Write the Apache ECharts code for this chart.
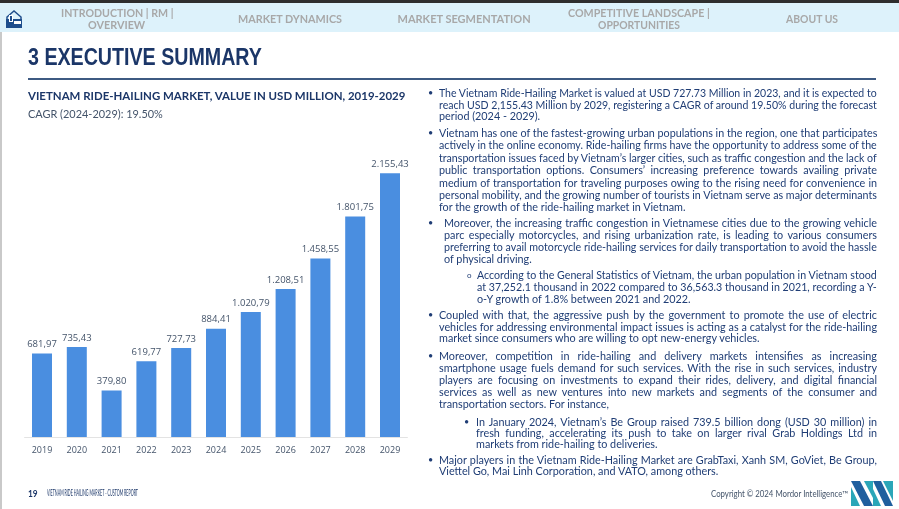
<!DOCTYPE html>
<html>
<head>
<meta charset="utf-8">
<script src="https://cdn.jsdelivr.net/npm/echarts@6/dist/echarts.min.js"></script>
<style>
  html,body{margin:0;padding:0;background:#fff;}
  #page{position:relative;width:899px;height:509px;overflow:hidden;background:#fff;font-family:Lato,"Open Sans",sans-serif;}
  #chart{position:absolute;left:0;top:0;width:899px;height:509px;}
  .t{position:absolute;white-space:nowrap;transform-origin:0 50%;}
  .ln{position:absolute;white-space:nowrap;height:12px;line-height:12px;font-size:10.8px;color:#1f3d75;transform-origin:0 50%;}
  .bl{position:absolute;height:12px;line-height:12px;font-size:9px;color:#1f3d75;}
</style>
</head>
<body>
<div id="page">
  <div style="position:absolute;left:0;top:0;width:899px;height:3px;background:#2e2e2e"></div>
  <div style="position:absolute;left:0;top:3px;width:899px;height:29px;background:#ddf2fb"></div>
  <div style="position:absolute;left:0;top:32px;width:2px;height:477px;background:#c9c9c9"></div>
  <svg style="position:absolute;left:4px;top:8px" width="20" height="22" viewBox="0 0 20 22">
    <path d="M3 9 L10 3 L17 9 L17 12 L3 12 Z" fill="none" stroke="#1f4e8c" stroke-width="1.5"/>
    <rect x="2" y="11" width="16" height="9" fill="#1f4e8c"/>
    <rect x="5" y="7" width="4" height="7" fill="#ffffff"/>
    <rect x="6" y="8" width="2" height="5" fill="#1f4e8c"/>
    <rect x="10" y="13" width="7" height="3" fill="#ffffff"/>
  </svg>
  <div id="chart"></div>
  <div style="position:absolute;left:28px;top:78px;width:848px;height:2px;background:#3e5a82"></div>
  <svg style="position:absolute;left:851px;top:481px" width="44" height="26" viewBox="0 0 44 26">
    <polygon points="0,6 0,25 9,25" fill="#2aa6b8"/>
    <polygon points="0,0 9,0 22,25 13,25" fill="#1f5f9e"/>
    <polygon points="13,0 22,0 22,17" fill="#2aa6b8"/>
    <polygon points="22,0 30,0 42,25 34,25" fill="#1f5f9e"/>
    <polygon points="32,0 42,0 42,20" fill="#2aa6b8"/>
    <polygon points="22,8 22,25 30,25" fill="#2aa6b8"/>
  </svg>
</div>
<script>
// ---------------- data ----------------
var years = ['2019','2020','2021','2022','2023','2024','2025','2026','2027','2028','2029'];
var values = [681.97, 735.43, 379.80, 619.77, 727.73, 884.41, 1020.79, 1208.51, 1458.55, 1801.75, 2155.43];
var chartTitle = 'VIETNAM RIDE-HAILING MARKET, VALUE IN USD MILLION, 2019-2029';
var cagrText = 'CAGR (2024-2029): 19.50%';

function fmt(v){
  var s = v.toFixed(2).split('.');
  var i = s[0].replace(/\B(?=(\d{3})+(?!\d))/g, '.');
  return i + ',' + s[1];
}

var chart = echarts.init(document.getElementById('chart'), null, {renderer:'canvas'});
chart.setOption({
  animation:false,
  backgroundColor:'transparent',
  grid:{left:24.6, top:131, width:382.8, height:306},
  xAxis:{
    type:'category', data:years,
    axisLine:{show:true, lineStyle:{color:'#e3e3e3', width:1}},
    axisTick:{show:false},
    axisLabel:{color:'#44546a', fontSize:9, fontFamily:'Open Sans', margin:9}
  },
  yAxis:{type:'value', min:0, max:2500, show:false, splitLine:{show:false}},
  series:[{
    type:'bar', data:values, barWidth:20,
    itemStyle:{color:'#4a8ee0'},
    label:{show:true, position:'top', distance:4, color:'#44546a', fontSize:9.5, fontFamily:'Open Sans',
      formatter:function(p){return fmt(p.value);}}
  }]
});

// ---------------- text layout ----------------
var page = document.getElementById('page');
var fitted = [];
function addFit(text, opt){
  var el = document.createElement('div');
  el.className = 't';
  el.textContent = text;
  el.style.fontSize = opt.size + 'px';
  el.style.fontWeight = opt.bold ? '700' : '400';
  el.style.color = opt.color;
  if (opt.family) el.style.fontFamily = opt.family;
  el.style.lineHeight = opt.size*1.2 + 'px';
  page.appendChild(el);
  fitted.push({el:el, opt:opt});
}
function layoutFit(){
  fitted.forEach(function(f){
    var el=f.el, o=f.opt;
    el.style.transform='none';
    var w = el.offsetWidth, h = el.offsetHeight;
    var s = o.w / w;
    var left = o.cx !== undefined ? o.cx - o.w/2 : o.x;
    el.style.left = left + 'px';
    el.style.top = (o.y - h/2) + 'px';
    el.style.transform = 'scaleX(' + s + ')';
  });
}

var navGray = '#a8a8a8';
addFit('INTRODUCTION | RM |', {cx:117, y:12, w:112, size:11, bold:true, color:navGray});
addFit('OVERVIEW', {cx:116, y:24, w:57, size:11, bold:true, color:navGray});
addFit('MARKET DYNAMICS', {cx:290, y:18, w:104, size:11, bold:true, color:navGray});
addFit('MARKET SEGMENTATION', {cx:464, y:18, w:133, size:11, bold:true, color:navGray});
addFit('COMPETITIVE LANDSCAPE |', {cx:639, y:12, w:142, size:11, bold:true, color:navGray});
addFit('OPPORTUNITIES', {cx:639, y:24, w:82, size:11, bold:true, color:navGray});
addFit('ABOUT US', {cx:812, y:18, w:52, size:11, bold:true, color:navGray});
addFit('3 EXECUTIVE SUMMARY', {x:28, y:58, w:234, size:23, bold:true, color:'#1b3668', family:'"Liberation Sans Narrow","Liberation Sans",sans-serif'});
addFit(chartTitle, {x:28, y:95, w:377, size:11, bold:true, color:'#1b3668'});
addFit(cagrText, {x:28, y:113, w:135, size:11, bold:false, color:'#44546a'});
addFit('19', {x:28, y:493, w:10, size:10, bold:true, color:'#1b3668'});
addFit('VIETNAM RIDE HAILING MARKET - CUSTOM REPORT', {x:47, y:493, w:91, size:8.5, bold:false, color:'#1b3668'});
addFit('Copyright \u00A9 2024 Mordor Intelligence\u2122', {x:711, y:494, w:137, size:8.5, bold:false, color:'#44546a'});

var RIGHT = 877;
var paras = [
  {b:'\u2022', bx:428, x:439, y:93, lh:11.5, lines:[
    'The Vietnam Ride-Hailing Market is valued at USD 727.73 Million in 2023, and it is expected to',
    'reach USD 2,155.43 Million by 2029, registering a CAGR of around 19.50% during the forecast',
    'period (2024 - 2029).']},
  {b:'\u2022', bx:428, x:439, y:133, lh:12.4, lines:[
    'Vietnam has one of the fastest-growing urban populations in the region, one that participates',
    'actively in the online economy. Ride-hailing firms have the opportunity to address some of the',
    'transportation issues faced by Vietnam\u2019s larger cities, such as traffic congestion and the lack of',
    'public transportation options. Consumers\u2019 increasing preference towards availing private',
    'medium of transportation for traveling purposes owing to the rising need for convenience in',
    'personal mobility, and the growing number of tourists in Vietnam serve as major determinants',
    'for the growth of the ride-hailing market in Vietnam.']},
  {b:'\u2022', bx:428, x:444, y:223, lh:12, lines:[
    'Moreover, the increasing traffic congestion in Vietnamese cities due to the growing vehicle',
    'parc especially motorcycles, and rising urbanization rate, is leading to various consumers',
    'preferring to avail motorcycle ride-hailing services for daily transportation to avoid the hassle',
    'of physical driving.']},
  {b:'o', bx:467, x:477, y:275, lh:12, lines:[
    'According to the General Statistics of Vietnam, the urban population in Vietnam stood',
    'at 37,252.1 thousand in 2022 compared to 36,563.3 thousand in 2021, recording a Y-',
    'o-Y growth of 1.8% between 2021 and 2022.']},
  {b:'\u2022', bx:428, x:439, y:315, lh:11.7, lines:[
    'Coupled with that, the aggressive push by the government to promote the use of electric',
    'vehicles for addressing environmental impact issues is acting as a catalyst for the ride-hailing',
    'market since consumers who are willing to opt new-energy vehicles.']},
  {b:'\u2022', bx:428, x:439, y:356, lh:12, lines:[
    'Moreover, competition in ride-hailing and delivery markets intensifies as increasing',
    'smartphone usage fuels demand for such services. With the rise in such services, industry',
    'players are focusing on investments to expand their rides, delivery, and digital financial',
    'services as well as new ventures into new markets and segments of the consumer and',
    'transportation sectors. For instance,']},
  {b:'\u2022', bx:464, x:476, y:422, lh:11, lines:[
    'In January 2024, Vietnam\u2019s Be Group raised 739.5 billion dong (USD 30 million) in',
    'fresh funding, accelerating its push to take on larger rival Grab Holdings Ltd in',
    'markets from ride-hailing to deliveries.']},
  {b:'\u2022', bx:428, x:439, y:460, lh:11, lines:[
    'Major players in the Vietnam Ride-Hailing Market are GrabTaxi, Xanh SM, GoViet, Be Group,',
    'Viettel Go, Mai Linh Corporation, and VATO, among others.']}
];

var lineEls = [];
paras.forEach(function(p){
  var b = document.createElement('div');
  b.className = 'bl';
  b.textContent = p.b;
  b.style.left = p.bx + 'px';
  b.style.top = (p.y - 6) + 'px';
  if (p.b === 'o') { b.style.fontSize = '8px'; }
  page.appendChild(b);
  p.lines.forEach(function(t, i){
    var el = document.createElement('div');
    el.className = 'ln';
    el.textContent = t;
    el.style.left = p.x + 'px';
    el.style.top = (p.y + i*p.lh - 6) + 'px';
    page.appendChild(el);
    lineEls.push({el:el, target:RIGHT - p.x, justify: i < p.lines.length - 1});
  });
});
function layoutLines(){
  lineEls.forEach(function(L){
    var el = L.el;
    el.style.transform = 'none';
    el.style.width = 'auto';
    el.style.textAlign = 'left';
    el.style.textAlignLast = 'auto';
    el.style.display = 'inline-block';
    var w = el.offsetWidth;
    if (w > L.target) {
      el.style.transform = 'scaleX(' + (L.target / w) + ')';
    } else if (L.justify) {
      el.style.display = 'block';
      el.style.width = L.target + 'px';
      el.style.textAlign = 'justify';
      el.style.textAlignLast = 'justify';
    }
  });
}
function layoutAll(){ layoutFit(); layoutLines(); }
layoutAll();
if (document.fonts && document.fonts.ready) document.fonts.ready.then(layoutAll);
</script>
</body>
</html>
